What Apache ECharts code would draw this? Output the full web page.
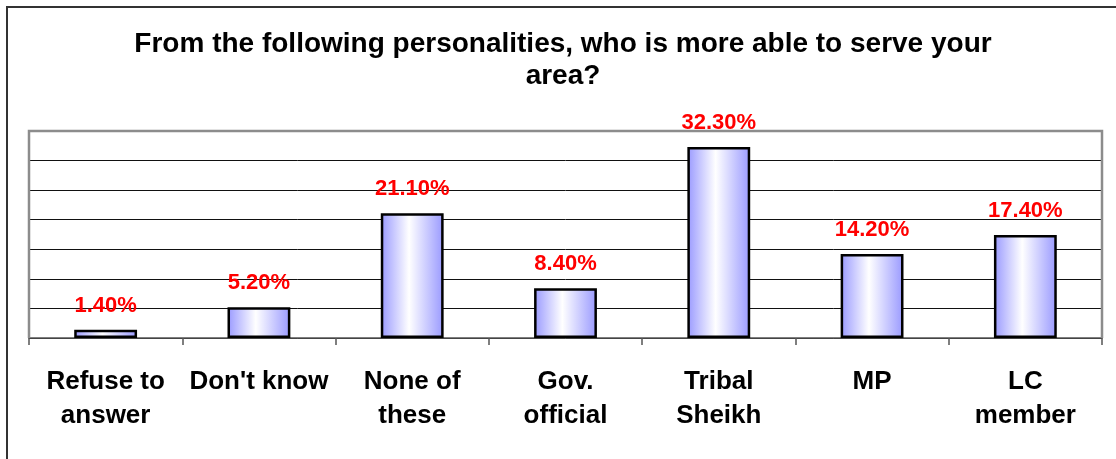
<!DOCTYPE html>
<html>
<head>
<meta charset="utf-8">
<script src="https://cdn.jsdelivr.net/npm/echarts@6/dist/echarts.min.js"></script>
<style>
  html, body { margin: 0; padding: 0; background: #fff; }
  #chart { width: 1116px; height: 459px; }
</style>
</head>
<body>
<div id="chart"></div>
<script>
// Survey answers: who is more able to serve the area
const categories = ['Refuse to\nanswer', "Don't know", 'None of\nthese', 'Gov.\nofficial', 'Tribal\nSheikh', 'MP', 'LC\nmember'];
const shares = [1.4, 5.2, 21.1, 8.4, 32.3, 14.2, 17.4];
const titleText = 'From the following personalities, who is more able to serve your\narea?';

const FONT = '"Liberation Sans", Arial, sans-serif';

const barFill = {
  type: 'linear', x: 0, y: 0, x2: 1, y2: 0,
  colorStops: [
    { offset: 0, color: '#9999ff' },
    { offset: 0.45, color: '#ffffff' },
    { offset: 1, color: '#9999ff' }
  ]
};

const chart = echarts.init(document.getElementById('chart'), null, { renderer: 'canvas' });
chart.setOption({
  animation: false,
  backgroundColor: '#ffffff',
  title: {
    text: titleText,
    left: 558,
    top: 23,
    textAlign: 'center',
    textStyle: { fontFamily: FONT, fontSize: 28, fontWeight: 'bold', color: '#000', lineHeight: 32 }
  },
  graphic: [
    {
      type: 'rect',
      shape: { x: 7, y: 7, width: 1300, height: 700 },
      style: { fill: 'none', stroke: '#333', lineWidth: 2 },
      silent: true
    },
    {
      type: 'polyline',
      shape: { points: [[29, 338], [29, 131], [1102, 131], [1102, 338]] },
      style: { fill: 'none', stroke: '#8c8c8c', lineWidth: 2.5 },
      silent: true,
      z: 10
    }
  ],
  grid: { left: 29, top: 131, right: 14, bottom: 121, containLabel: false },
  xAxis: {
    type: 'category',
    data: categories,
    axisLine: { lineStyle: { color: '#555', width: 1.5 } },
    axisTick: { show: true, length: 7, alignWithLabel: false, lineStyle: { color: '#555', width: 1.5 } },
    axisLabel: {
      interval: 0,
      margin: 27,
      verticalAlign: 'top',
      fontFamily: FONT,
      fontSize: 26,
      fontWeight: 'bold',
      color: '#000',
      lineHeight: 34
    }
  },
  yAxis: {
    type: 'value',
    min: 0,
    max: 35,
    interval: 5,
    axisLine: { show: false },
    axisTick: { show: false },
    axisLabel: { show: false },
    splitLine: { lineStyle: { color: '#111', width: 1 } }
  },
  series: [{
    type: 'bar',
    data: shares,
    barWidth: '41%',
    itemStyle: { color: barFill, borderColor: '#000', borderWidth: 2.5 },
    label: {
      show: true,
      position: 'top',
      distance: 13,
      formatter: p => p.value.toFixed(2) + '%',
      fontFamily: FONT,
      fontSize: 22,
      fontWeight: 'bold',
      color: '#ff0000'
    }
  }]
});
</script>
</body>
</html>
